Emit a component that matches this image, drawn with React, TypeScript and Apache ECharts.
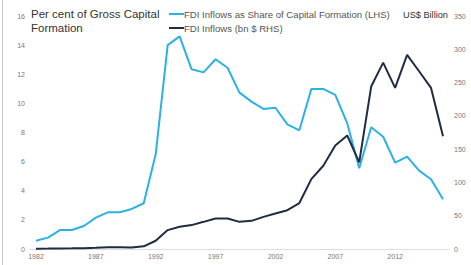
import React, { useEffect, useRef } from "react";
import * as echarts from "echarts";

const years: string[] = [];
for (let y = 1982; y <= 2016; y++) years.push(String(y));

const shareOfCapitalFormation = [
  0.57, 0.78, 1.3, 1.3, 1.58, 2.15, 2.52, 2.52, 2.75, 3.14,
  6.5, 14.0, 14.6, 12.34, 12.13, 13.03, 12.45, 10.74, 10.12, 9.62,
  9.7, 8.56, 8.15, 10.99, 10.99, 10.58, 8.63, 5.54, 8.36, 7.71,
  5.93, 6.34, 5.38, 4.79, 3.41,
];

const fdiInflowsBn = [
  0.4, 0.6, 0.9, 1.0, 1.3, 1.7, 2.5, 2.6, 2.4, 4.0,
  12.4, 28.4, 33.4, 35.9, 40.8, 45.9, 45.9, 40.8, 42.3, 48.3,
  53.3, 58.3, 69, 105, 125, 155.5, 170.5, 130, 244, 280,
  242, 291.6, 267, 242, 169.5,
];

const LIGHT = "#2bb2e3";
const DARK = "#1f2c44";
const FONT = "'Liberation Sans', Arial, sans-serif";

export default function App() {
  const ref = useRef<HTMLDivElement>(null);
  useEffect(() => {
    if (!ref.current) return;
    const chart = echarts.init(ref.current, undefined, { renderer: "svg" });
    chart.setOption({
      animation: false,
      textStyle: { fontFamily: FONT },
      grid: { left: 30, right: 22, top: 16, bottom: 16, containLabel: false },
      legend: {
        orient: "vertical",
        left: 164,
        top: 4,
        itemGap: 4,
        itemWidth: 15,
        itemHeight: 2,
        icon: "rect",
        textStyle: { fontSize: 9.6, color: "#555", fontFamily: FONT, padding: [0, 0, 0, -5] },
        data: [
          { name: "FDI Inflows as Share of Capital Formation (LHS)", itemStyle: { color: LIGHT } },
          { name: "FDI Inflows (bn $ RHS)", itemStyle: { color: DARK } },
        ],
      },
      graphic: [
        { type: "line", shape: { x1: 2.5, y1: 0, x2: 2.5, y2: 265 }, style: { stroke: "#c8c8c8", lineWidth: 1 } },
        {
          type: "text",
          left: 31,
          top: 7,
          style: {
            text: "Per cent of Gross Capital\nFormation",
            font: `11.5px ${FONT}`,
            fill: "#333",
            lineHeight: 14,
          },
        },
        {
          type: "text",
          left: 403,
          top: 10,
          style: { text: "US$ Billion", font: `9.2px ${FONT}`, fill: "#333" },
        },
      ],
      xAxis: {
        type: "category",
        data: years,
        boundaryGap: true,
        axisLine: { lineStyle: { color: "#ddd" } },
        axisTick: { show: false },
        axisLabel: { interval: 4, fontSize: 7, color: "#777", margin: 4 },
      },
      yAxis: [
        {
          type: "value",
          min: 0,
          max: 16,
          interval: 2,
          splitLine: { show: false },
          axisLine: { show: false },
          axisTick: { show: false },
          axisLabel: { fontSize: 7, color: "#777", margin: 5 },
        },
        {
          type: "value",
          min: 0,
          max: 350,
          interval: 50,
          position: "right",
          splitLine: { show: false },
          axisLine: { show: false },
          axisTick: { show: false },
          axisLabel: { fontSize: 7, color: "#777", margin: 5 },
        },
      ],
      series: [
        {
          name: "FDI Inflows as Share of Capital Formation (LHS)",
          type: "line",
          yAxisIndex: 0,
          data: shareOfCapitalFormation,
          showSymbol: false,
          lineStyle: { color: LIGHT, width: 2 },
          itemStyle: { color: LIGHT },
        },
        {
          name: "FDI Inflows (bn $ RHS)",
          type: "line",
          yAxisIndex: 1,
          data: fdiInflowsBn,
          showSymbol: false,
          lineStyle: { color: DARK, width: 2 },
          itemStyle: { color: DARK },
        },
      ],
    });
    return () => chart.dispose();
  }, []);
  return <div ref={ref} style={{ width: 471, height: 265, position: "fixed", left: 0, top: 0, background: "#fff" }} />;
}
